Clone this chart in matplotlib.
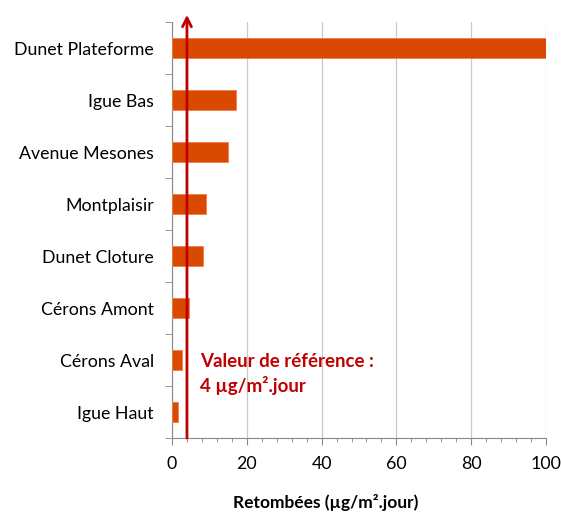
import matplotlib.pyplot as plt
from matplotlib.ticker import MultipleLocator

plt.rcParams['font.family'] = ['Lato', 'DejaVu Sans']

sites = ['Dunet Plateforme', 'Igue Bas', 'Avenue Mesones', 'Montplaisir',
         'Dunet Cloture', 'Cérons Amont', 'Cérons Aval', 'Igue Haut']
values = [100, 17.1, 15.0, 9.1, 8.3, 4.5, 2.6, 1.5]
reference = 4

fig = plt.figure(figsize=(5.61, 5.13), dpi=100)
ax = fig.add_axes([0.3066, 0.1462, 0.6667, 0.8108])

pos = list(range(len(sites)))[::-1]
ax.barh(pos, values, height=0.4, color='#D94A00', edgecolor='#F08050', linewidth=0.6, zorder=3)

ax.set_xlim(0, 100)
ax.set_ylim(-0.5, len(sites) - 0.5)
ax.set_yticks(pos)
ax.set_yticklabels(sites, fontsize=12.8)
ax.set_yticks([p - 0.5 for p in range(len(sites) + 1)], minor=True)
ax.tick_params(axis='y', which='major', length=0, pad=13)
ax.tick_params(axis='y', which='minor', length=5, color='#888888')

ax.xaxis.set_major_locator(MultipleLocator(20))
ax.xaxis.set_minor_locator(MultipleLocator(4))
ax.tick_params(axis='x', which='major', length=5, color='#888888', labelsize=12.8, pad=8)
ax.tick_params(axis='x', which='minor', length=3, color='#888888')
ax.grid(axis='x', color='#C8C8C8', linewidth=0.9, zorder=0)

for s in ['top', 'right']:
    ax.spines[s].set_visible(False)
for s in ['left', 'bottom']:
    ax.spines[s].set_color('#888888')

ax.annotate('', xy=(reference, 7.64), xytext=(reference, -0.5),
            xycoords='data', annotation_clip=False,
            arrowprops=dict(arrowstyle='->', color='#C00000', lw=2,
                            mutation_scale=16, shrinkA=0, shrinkB=0), zorder=5)
ax.text(reference + 3.6, 0.73, 'Valeur de référence :\n4 µg/m².jour',
        color='#C00000', fontsize=13.5, fontweight='bold', va='center',
        linespacing=1.4)

ax.set_xlabel('Retombées (µg/m².jour)', fontsize=12.5, fontweight='bold')
ax.xaxis.set_label_coords(0.41, -0.135)

fig.savefig('out.png', dpi=100)
plt.close(fig)
